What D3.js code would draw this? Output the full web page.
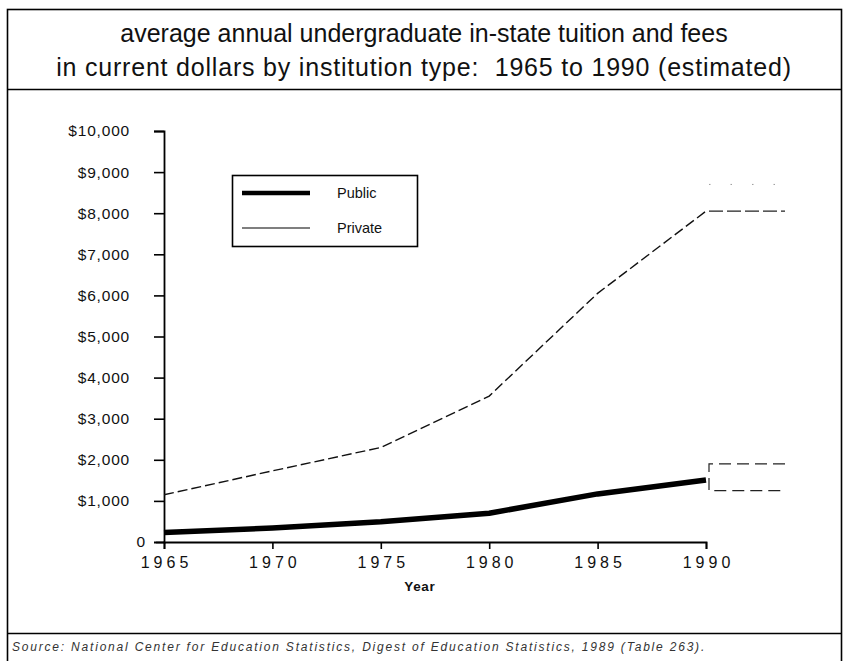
<!DOCTYPE html>
<html>
<head>
<meta charset="utf-8">
<script src="https://cdn.jsdelivr.net/npm/d3@7/dist/d3.min.js"></script>
<style>
  html, body { margin: 0; padding: 0; background: #fff; }
  svg { display: block; font-family: "Liberation Sans", Arial, Helvetica, sans-serif; }
</style>
</head>
<body>
<svg id="chart" width="848" height="661"></svg>
<script>
// Average annual undergraduate in-state tuition and fees (current dollars)
const years = [1965, 1970, 1975, 1980, 1985, 1990];
const publicTuition = [230, 340, 490, 700, 1170, 1510];
const privateTuition = [1150, 1730, 2300, 3550, 6050, 8050];
const seriesNames = ["Public", "Private"];

// Estimated 1990 ranges shown as brackets past the last year
const publicRange = [1250, 1900];
const privateRange = [8050, 8700];

const yTicks = [0, 1000, 2000, 3000, 4000, 5000, 6000, 7000, 8000, 9000, 10000];
const xTicks = [1965, 1970, 1975, 1980, 1985, 1990];

const titleLines = [
  "average annual undergraduate in-state tuition and fees",
  "in current dollars by institution type:  1965 to 1990 (estimated)"
];
const sourceNote = "Source: National Center for Education Statistics, Digest of Education Statistics, 1989 (Table 263).";

const svg = d3.select("#chart");

// Frame: outer box, title band and footer band
const frame = { left: 7.5, right: 841.5, top: 9.5, titleBottom: 89.5, footerTop: 633.5, bottom: 670 };
svg.append("rect")
  .attr("x", frame.left).attr("y", frame.top)
  .attr("width", frame.right - frame.left).attr("height", frame.bottom - frame.top)
  .attr("fill", "none").attr("stroke", "#000").attr("stroke-width", 1.6);
svg.append("line")
  .attr("x1", frame.left).attr("x2", frame.right)
  .attr("y1", frame.titleBottom).attr("y2", frame.titleBottom)
  .attr("stroke", "#000").attr("stroke-width", 1.6);
svg.append("line")
  .attr("x1", frame.left).attr("x2", frame.right)
  .attr("y1", frame.footerTop).attr("y2", frame.footerTop)
  .attr("stroke", "#000").attr("stroke-width", 1.6);

svg.append("g").selectAll("text")
  .data(titleLines)
  .join("text")
  .attr("x", 424)
  .attr("y", (d, i) => 42 + i * 34)
  .attr("text-anchor", "middle")
  .attr("font-size", 25)
  .attr("letter-spacing", (d, i) => i === 0 ? 0 : 0.8)
  .attr("fill", "#111")
  .style("white-space", "pre")
  .text(d => d);

svg.append("text")
  .attr("x", 12).attr("y", 651)
  .attr("font-size", 12)
  .attr("font-style", "italic")
  .attr("fill", "#333")
  .attr("letter-spacing", 1.8)
  .text(sourceNote);

// Plot scales
const x = d3.scaleLinear().domain([1965, 1990]).range([164, 706]);
const y = d3.scaleLinear().domain([0, 10000]).range([542, 131]);

// Y axis
const yAxis = d3.axisLeft(y)
  .tickValues(yTicks)
  .tickSize(10)
  .tickPadding(24)
  .tickFormat(d => d === 0 ? "0" : "$" + d3.format(",")(d));
const gy = svg.append("g").attr("transform", `translate(${x(1965)},0)`).call(yAxis);
gy.select(".domain").attr("stroke", "#000").attr("stroke-width", 1.8);
gy.selectAll(".tick line").attr("stroke", "#000").attr("stroke-width", 1.6);
gy.selectAll(".tick text")
  .attr("font-size", 15.5)
  .attr("letter-spacing", 0.8)
  .attr("fill", "#111")
  .attr("font-family", "'Liberation Sans', Arial, sans-serif");
gy.selectAll(".tick").filter(d => d === 0).select("text").attr("x", -18);
gy.selectAll(".tick").filter(d => d === 0).select("line").attr("x2", -8);

// X axis
const xAxis = d3.axisBottom(x)
  .tickValues(xTicks)
  .tickSize(7)
  .tickPadding(8)
  .tickFormat(d3.format("d"));
const gx = svg.append("g").attr("transform", `translate(0,${y(0)})`).call(xAxis);
gx.select(".domain").attr("stroke", "#000").attr("stroke-width", 1.8);
gx.selectAll(".tick line").attr("stroke", "#000").attr("stroke-width", 1.6);
gx.selectAll(".tick text")
  .attr("font-size", 16)
  .attr("letter-spacing", 4)
  .attr("dx", 2)
  .attr("fill", "#111")
  .attr("font-family", "'Liberation Sans', Arial, sans-serif");

svg.append("text")
  .attr("x", x(1976.8)).attr("y", 591)
  .attr("text-anchor", "middle")
  .attr("font-size", 13.5)
  .attr("font-weight", "bold")
  .attr("letter-spacing", 0.6)
  .attr("fill", "#111")
  .text("Year");

// Series lines
const line = d3.line()
  .x((d, i) => x(years[i]))
  .y(d => y(d));

svg.append("path")
  .datum(privateTuition)
  .attr("d", line)
  .attr("fill", "none")
  .attr("stroke", "#111")
  .attr("stroke-width", 1.4)
  .attr("stroke-dasharray", "10,4");

svg.append("path")
  .datum(publicTuition)
  .attr("d", line)
  .attr("fill", "none")
  .attr("stroke", "#000")
  .attr("stroke-width", 5.5)
  .attr("stroke-linejoin", "round");

// Range brackets for the 1990 estimates
const bx0 = x(1990) + 3, bx1 = x(1990) + 79;
const brackets = svg.append("g").attr("fill", "none").attr("stroke", "#222");
brackets.append("path")
  .attr("d", `M${bx1},${y(publicRange[1])}H${bx0}V${y(publicRange[0])}H${bx1}`)
  .attr("stroke-width", 1.2)
  .attr("stroke-dasharray", "12,6");
brackets.append("path")
  .attr("d", `M${bx0},${y(privateRange[0])}H${bx1}`)
  .attr("stroke-width", 1.3)
  .attr("stroke-dasharray", "14,4");
brackets.append("path")
  .attr("d", `M${bx0},${y(privateRange[1])}H${bx1}`)
  .attr("stroke-width", 1)
  .attr("stroke-opacity", 0.45)
  .attr("stroke-dasharray", "1.5,20");

// Legend
const legend = svg.append("g").attr("transform", "translate(232,175)");
legend.append("rect")
  .attr("x", 0.5).attr("y", 0.5)
  .attr("width", 185).attr("height", 71)
  .attr("fill", "#fff").attr("stroke", "#000").attr("stroke-width", 1.6);
const legendItems = legend.selectAll("g.item")
  .data(seriesNames)
  .join("g")
  .attr("class", "item")
  .attr("transform", (d, i) => `translate(0,${18 + i * 35})`);
legendItems.append("line")
  .attr("x1", 10).attr("x2", 78)
  .attr("y1", 0).attr("y2", 0)
  .attr("stroke", "#000")
  .attr("stroke-width", (d, i) => i === 0 ? 4.5 : 1.2);
legendItems.append("text")
  .attr("x", 105).attr("y", 5)
  .attr("font-size", 14.5)
  .attr("fill", "#111")
  .text(d => d);
</script>
</body>
</html>
